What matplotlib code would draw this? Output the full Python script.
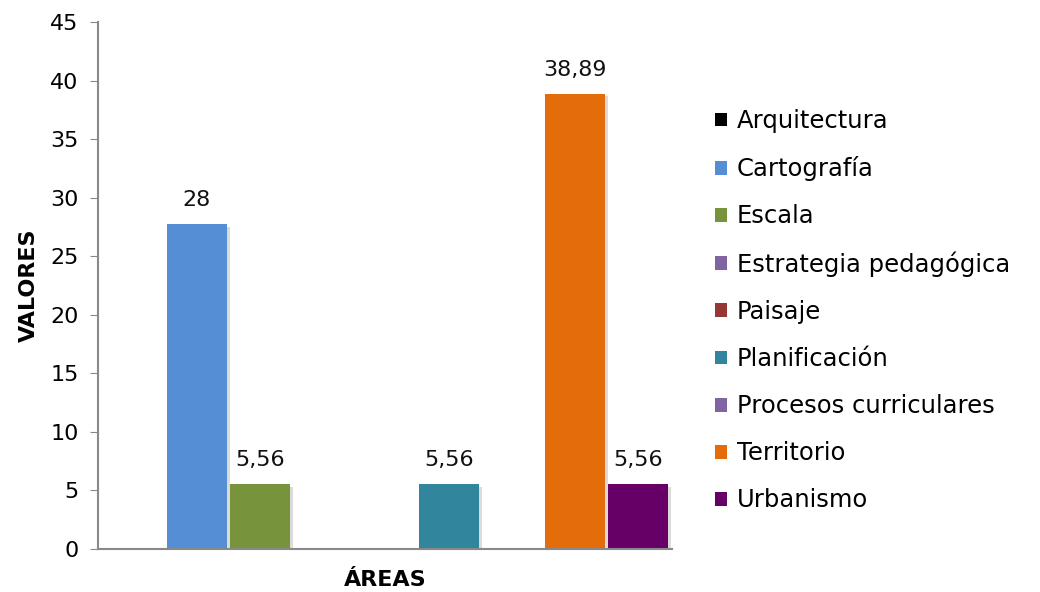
import matplotlib.pyplot as plt
import matplotlib.patheffects as pe

# data
areas = ["Arquitectura", "Cartografía", "Escala", "Estrategia pedagógica", "Paisaje",
         "Planificación", "Procesos curriculares", "Territorio", "Urbanismo"]
valores = [0, 27.78, 5.56, 0, 0, 5.56, 0, 38.89, 5.56]
etiquetas = ["", "28", "5,56", "", "", "5,56", "", "38,89", "5,56"]
colores = ["#000000", "#558ED5", "#77933C", "#8064A2", "#953735",
           "#31859C", "#8064A2", "#E46C0A", "#660066"]

plt.rcParams["font.family"] = ["DejaVu Sans"]

fig = plt.figure(figsize=(10.4, 5.92), dpi=100)
ax = fig.add_axes([0.0942, 0.0726, 0.552, 0.890])

barras = []
for i, (a, v, c) in enumerate(zip(areas, valores, colores)):
    b = ax.bar(i, v, width=0.96, color=c, edgecolor="none", label=a)
    barras.append(b[0])
    if etiquetas[i]:
        ax.annotate(etiquetas[i], (i, v), xytext=(0, 10), textcoords="offset points",
                    ha="center", va="bottom", fontsize=16, color="#111111")

ax.set_xlim(-0.57, 8.54)
ax.set_ylim(0, 45)
ax.set_yticks(range(0, 46, 5))
ax.set_xticks([])
ax.tick_params(axis="y", labelsize=16, length=6, color="#898989", pad=8)
for s in ["top", "right"]:
    ax.spines[s].set_visible(False)
for s in ["left", "bottom"]:
    ax.spines[s].set_color("#898989")
    ax.spines[s].set_linewidth(1.5)

ax.set_ylabel("VALORES", fontsize=16, fontweight="bold", labelpad=8)
ax.set_xlabel("ÁREAS", fontsize=16, fontweight="bold", labelpad=15)

ax.legend(loc="center left", bbox_to_anchor=(0.678, 0.475), bbox_transform=fig.transFigure,
          frameon=False, fontsize=17.5, handlelength=0.5, handleheight=0.5,
          handletextpad=0.4, labelspacing=0.95, borderaxespad=0)

# light shadow on the bars (after the legend so the keys stay flat)
shadow = [pe.SimplePatchShadow(offset=(2, -2), shadow_rgbFace="#999999", alpha=0.35), pe.Normal()]
for b, v in zip(barras, valores):
    if v > 0:
        b.set_path_effects(shadow)

fig.savefig("out.png", dpi=100)
